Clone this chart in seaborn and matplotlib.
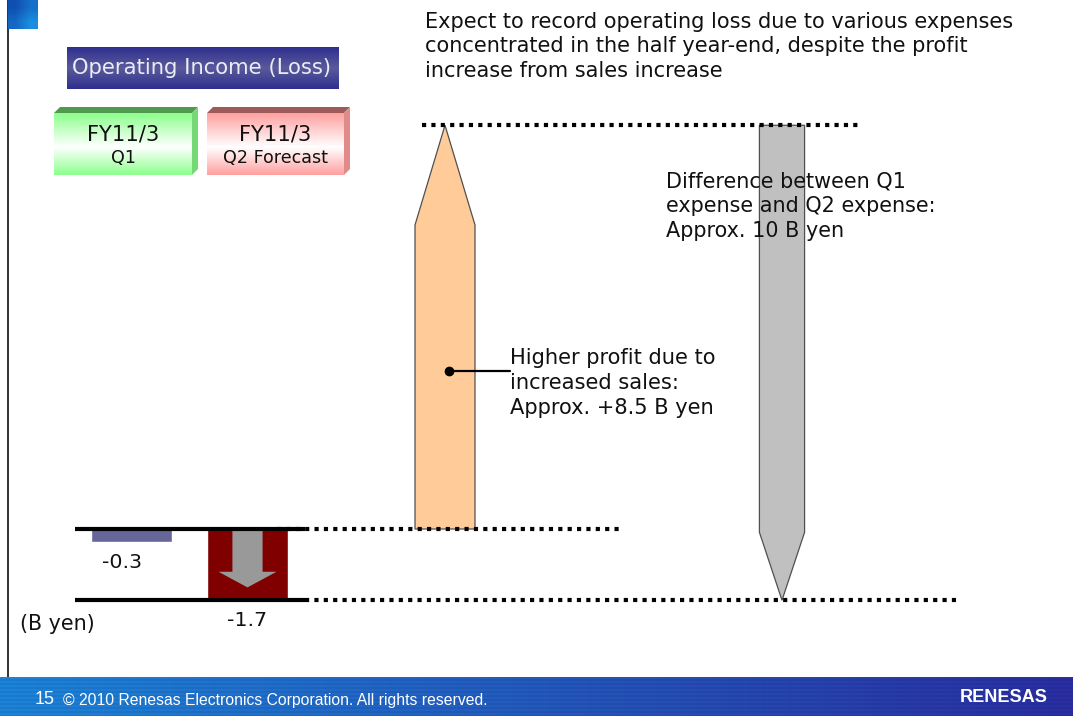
import numpy as np
import pandas as pd
import matplotlib
matplotlib.use("Agg")
import matplotlib.pyplot as plt
import seaborn as sns
from matplotlib.patches import Polygon
from matplotlib.colors import LinearSegmentedColormap, to_rgb

# ---------------- data ----------------
periods = ["FY11/3 Q1", "FY11/3 Q2 Forecast"]
income = [-0.3, -1.7]                      # operating income (loss), B yen
income_labels = ["-0.3", "-1.7"]
bridge_items = ["Higher profit due to increased sales",
                "Difference between Q1 and Q2 expense"]
bridge_change = [8.5, -10.0]               # B yen
unit_label = "(B yen)"
headline = ("Expect to record operating loss due to various expenses\n"
            "concentrated in the half year-end, despite the profit\n"
            "increase from sales increase")
note_sales = "Higher profit due to\nincreased sales:\nApprox. +8.5 B yen"
note_expense = "Difference between Q1\nexpense and Q2 expense:\nApprox. 10 B yen"
box_title = "Operating Income (Loss)"
footer_text = "\u00a9 2010 Renesas Electronics Corporation. All rights reserved."
page_no = "15"

# ---------------- setup ----------------
W, H = 1073, 716
sns.set_theme(style="white")
plt.rcParams['font.family'] = ['DejaVu Sans']
plt.rcParams['text.color'] = '#111111'
fig = plt.figure(figsize=(W / 100, H / 100), dpi=100)
fig.patch.set_facecolor("white")
renderer = fig.canvas.get_renderer()


def fit_width(t, target):
    for _ in range(3):
        w = t.get_window_extent(renderer).width
        t.set_fontsize(t.get_fontsize() * target / w)
    return t


def fit_pitch(t, target, ls=1.2):
    # adjust line spacing so that successive baselines are `target` px apart
    txt = t.get_text()
    n = txt.count("\n") + 1
    for _ in range(3):
        t.set_linespacing(ls)
        h_all = t.get_window_extent(renderer).height
        t.set_text(txt.split("\n")[0])
        h_one = t.get_window_extent(renderer).height
        t.set_text(txt)
        pitch = (h_all - h_one) / (n - 1)
        ls = ls * target / pitch
    t.set_linespacing(ls)
    return t


def overlay(z):
    a = fig.add_axes([0, 0, 1, 1], zorder=z)
    a.patch.set_visible(False)
    a.axis('off')
    return a


bg = overlay(0)
bg.set_xlim(0, W)
bg.set_ylim(H, 0)


def vgrad(ax, x0, x1, y0, y1, cols, z=1):
    cmap = LinearSegmentedColormap.from_list("g", cols)
    arr = np.linspace(0, 1, 200).reshape(-1, 1)
    ax.imshow(arr, cmap=cmap, extent=(x0, x1, y1, y0), aspect='auto',
              interpolation='bicubic', zorder=z)


# left rule and top-left square
bg.plot([8, 8], [0, 677], color="#222222", lw=1.3, zorder=2)
sq = np.array([[to_rgb("#0f4fb0"), to_rgb("#1470c8")],
               [to_rgb("#1468c4"), to_rgb("#1a8ee0")]])
bg.imshow(sq, extent=(8, 38, 29, 0), aspect='auto', interpolation='bilinear', zorder=2)

# title box
vgrad(bg, 67, 339, 47, 89, [(0, "#2f2f8f"), (0.5, "#5a5a9c"), (1, "#2f2f8f")])
fit_width(bg.text(202, 68, box_title, color="#ececf4", fontsize=14, ha='center',
                  va='center', zorder=3), 258)


def box3d(x0, x1, y0, y1, depth, face, top, side, label1, label2, w1, fs2):
    vgrad(bg, x0, x1, y0, y1, [(0, face), (0.55, "#ffffff"), (1, face)], z=2)
    bg.add_patch(Polygon([(x0, y0), (x0 + depth, y0 - depth), (x1 + depth, y0 - depth), (x1, y0)],
                         closed=True, fc=top, ec='none', zorder=3))
    bg.add_patch(Polygon([(x1, y0), (x1 + depth, y0 - depth), (x1 + depth, y1 - depth), (x1, y1)],
                         closed=True, fc=side, ec='none', zorder=3))
    xc = (x0 + x1) / 2
    fit_width(bg.text(xc, y0 + 22, label1, fontsize=13, ha='center', va='center',
                      color='#111111', zorder=4), w1)
    bg.text(xc, y0 + 45, label2, fontsize=fs2, ha='center', va='center',
            color='#111111', zorder=4)


# size of the second box line, fitted on the longer label
probe = fit_width(bg.text(0, 0, "Q2 Forecast", fontsize=10.5), 105)
fs_sub = probe.get_fontsize()
probe.remove()

box3d(54, 192, 113, 175, 6, "#8cff8c", "#4f9a4f", "#74d874", "FY11/3", "Q1", 72, fs_sub)
box3d(207, 344, 113, 175, 6, "#ffa0a0", "#9c5a5a", "#e08a8a", "FY11/3", "Q2 Forecast", 72, fs_sub)

# footer band
fy0 = 677
rows = H - fy0
t = np.linspace(0, 1, W)
c_left, c_right = np.array(to_rgb("#1c84da")), np.array(to_rgb("#2a2ea2"))
band = c_left[None, None, :] * (1 - t[None, :, None]) + c_right[None, None, :] * t[None, :, None]
band = np.repeat(band, rows, axis=0)
stripe = np.where((np.arange(rows) // 2) % 2 == 0, 1.0, 0.93)[:, None, None]
band = np.clip(band * stripe, 0, 1)
bg.imshow(band, extent=(0, W, H, fy0), aspect='auto', interpolation='nearest', zorder=2)
fit_width(bg.text(35, 699, page_no, color='white', fontsize=12, va='center', ha='left',
                  family=['Liberation Sans'], zorder=3), 20)
fit_width(bg.text(63, 700, footer_text, color='white', fontsize=9.5, va='center', ha='left',
                  family=['Liberation Sans'], zorder=3), 425)
fit_width(bg.text(1004, 698, "RENESAS", color='white', fontsize=14, fontweight='bold',
                  va='center', ha='center', family=['Liberation Sans'], zorder=3), 88)

# ---------------- waterfall (bridge) axes ----------------
wf = overlay(2)
x_px0, x_step = 445, 337       # pixel position of first item, pixels per category
y_px0, y_scale = 529, 47.5     # pixel of the zero level, pixels per B yen
wf.set_xlim((0 - x_px0) / x_step, (W - x_px0) / x_step)
wf.set_ylim((y_px0 - H) / y_scale, y_px0 / y_scale)

levels = np.cumsum([0.0] + bridge_change)   # 0 -> 8.5 -> -1.5


def pencil(ax, xc, y0, y1, half_w, head, fc):
    d = np.sign(y1 - y0)
    yb = y1 - d * head
    pts = [(xc - half_w, y0), (xc + half_w, y0), (xc + half_w, yb), (xc, y1), (xc - half_w, yb)]
    ax.add_patch(Polygon(pts, closed=True, fc=fc, ec='#505050', lw=0.9, zorder=2))


pencil(wf, 0, levels[0], levels[1], 0.089, 2.1, "#ffcc99")
pencil(wf, 1, levels[1], levels[2], 0.067, 1.43, "#c0c0c0")

dot = dict(color='black', lw=3, linestyle=(0, (1, 1.25)), dash_capstyle='butt', zorder=3)
wf.plot([-0.068, 1.226], [levels[1]] * 2, **dot)
wf.plot([-0.4985, 0.519], [levels[0]] * 2, **dot)
wf.plot([-0.415, 1.528], [levels[2]] * 2, **dot)

# ---------------- period bars axes ----------------
sm = overlay(1)
df = pd.DataFrame({"period": periods, "income": income})
sns.barplot(data=df, x="period", y="income", hue="period",
            palette=["#666699", "#800000"], width=0.70, saturation=1,
            legend=False, ax=sm)
sm.axis('off')
sm_x0, sm_step = 131.5, 116
bottom_px = y_px0 - levels[2] * y_scale
sm_scale = (bottom_px - y_px0) / abs(income[1])
sm.set_xlim((0 - sm_x0) / sm_step, (W - sm_x0) / sm_step)
sm.set_ylim((y_px0 - H) / sm_scale, y_px0 / sm_scale)

sm.plot([-0.487, 1.496], [0, 0], color='black', lw=3, solid_capstyle='butt', zorder=4)
sm.plot([-0.487, 1.496], [income[1]] * 2, color='black', lw=3, solid_capstyle='butt', zorder=4)

q2 = income[1]
arrow_pts = [(1 - 0.13, 0), (1 + 0.13, 0), (1 + 0.13, 0.6 * q2), (1 + 0.25, 0.6 * q2),
             (1, 0.82 * q2), (1 - 0.25, 0.6 * q2), (1 - 0.13, 0.6 * q2)]
sm.add_patch(Polygon(arrow_pts, closed=True, fc="#999999", ec='none', zorder=3))

fit_width(sm.annotate(income_labels[0], (-0.08, income[0]), xytext=(0, -8),
                      textcoords='offset points', ha='center', va='top', fontsize=13.5), 40)
fit_width(sm.annotate(income_labels[1], (1.0, income[1]), xytext=(0, -8),
                      textcoords='offset points', ha='center', va='top', fontsize=13.5), 40)

# ---------------- annotations ----------------
ov = overlay(3)
ov.set_xlim(0, W)
ov.set_ylim(H, 0)
t_head = ov.text(425, 12, headline, fontsize=15, ha='left', va='top')
fit_width(t_head, 588)
fit_pitch(t_head, 24.5)
t_exp = ov.text(666, 172, note_expense, fontsize=14, ha='left', va='top')
fit_width(t_exp, 270)
fit_pitch(t_exp, 24.5)
t_sal = ov.text(510, 348, note_sales, fontsize=14, ha='left', va='top')
fit_width(t_sal, 207)
fit_pitch(t_sal, 25)
ov.plot([449, 510], [371, 371], color='black', lw=1.6)
ov.plot([449], [371], marker='o', color='black', markersize=6)
fit_width(ov.text(20, 624, unit_label, fontsize=13.5, ha='left', va='center'), 75)

fig.savefig("out.png", dpi=100)
